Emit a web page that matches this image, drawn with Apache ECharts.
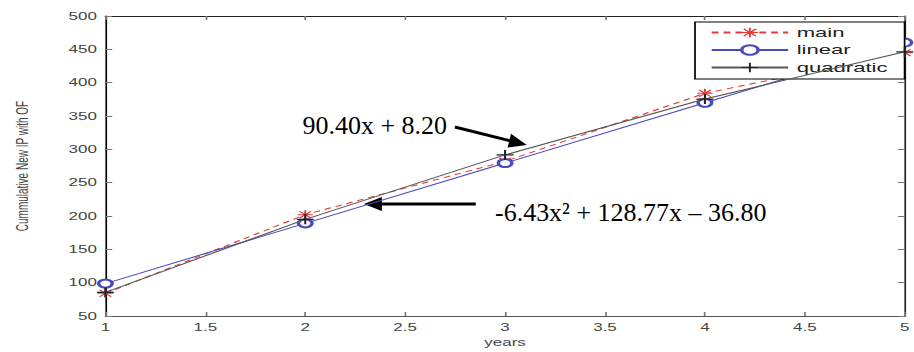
<!DOCTYPE html>
<html>
<head>
<meta charset="utf-8">
<script src="https://cdn.jsdelivr.net/npm/echarts@6/dist/echarts.min.js"></script>
<style>
html,body{margin:0;padding:0;background:#fff;overflow:hidden;}
#c{height:352px;transform-origin:0 0;}
</style>
</head>
<body>
<div id="c"></div>
<script>
// ---- data ----
const years = [1, 2, 3, 4, 5];
const mainValues = [84, 202, 282, 384, 445];
const linearValues = [98.6, 189.0, 279.4, 369.8, 460.2];
const quadraticValues = [85.5, 195.0, 291.6, 375.4, 446.3];
const seriesNames = ['main', 'linear', 'quadratic'];
const yAxisTitle = 'Cummulative New IP with OF';
const xAxisTitle = 'years';
const linearLabel = '90.40x + 8.20';
const quadLabel = '-6.43x² + 128.77x – 36.80';

// the original figure is horizontally stretched
const S = 1.7;
const el = document.getElementById('c');
el.style.width = (914 / S) + 'px';
el.style.transform = 'scaleX(' + S + ')';

const pairs = vals => years.map((x, i) => [x, vals[i]]);
const asterisk = 'path://M4.4 0L5.6 0L5.6 10L4.4 10Z M0 4.4L10 4.4L10 5.6L0 5.6Z M0.8 1.6L1.6 0.8L9.2 8.4L8.4 9.2Z M8.4 0.8L9.2 1.6L1.6 9.2L0.8 8.4Z';
const plus = 'path://M4.4 0L5.6 0L5.6 10L4.4 10Z M0 4.4L10 4.4L10 5.6L0 5.6Z';

function arrow(x0, y0, x1, y1) {
  const dx = x1 - x0, dy = y1 - y0, L = Math.hypot(dx, dy);
  const ux = dx / L, uy = dy / L, hl = 18, hw = 7;
  const bx = x1 - ux * hl, by = y1 - uy * hl;
  return [
    { type: 'line', shape: { x1: x0, y1: y0, x2: bx + ux * 2, y2: by + uy * 2 }, style: { stroke: '#000', lineWidth: 3 } },
    { type: 'polygon', shape: { points: [[x1, y1], [bx - uy * hw, by + ux * hw], [bx + uy * hw, by - ux * hw]] }, style: { fill: '#000' } }
  ];
}

const font = 'Liberation Sans, Arial, sans-serif';
const chart = echarts.init(el, null, { renderer: 'svg' });
const axisCommon = {
  type: 'value',
  axisLine: { show: true, lineStyle: { color: '#222', width: 1 } },
  axisTick: { show: true, inside: true, length: 4, lineStyle: { color: '#777' } },
  splitLine: { show: false }
};
chart.setOption({
  animation: false,
  backgroundColor: '#fff',
  grid: { left: 96 / S, right: 2 / S, top: 16, bottom: 36 },
  legend: {
    data: seriesNames,
    orient: 'vertical',
    left: 695 / S, top: 22,
    padding: [4, 10, 5, 8.8],
    itemWidth: 45, itemHeight: 12, itemGap: 4.5,
    backgroundColor: '#fff', borderColor: '#000', borderWidth: 1,
    textStyle: { fontFamily: font, fontSize: 13, color: '#222' }
  },
  xAxis: [
    Object.assign({}, axisCommon, {
      min: 1, max: 5, interval: 0.5, position: 'bottom',
      axisLine: { show: true, lineStyle: { color: '#555', width: 1 } },
      axisLabel: { fontFamily: font, fontSize: 10, color: '#444', margin: 6 },
      name: xAxisTitle, nameLocation: 'middle', nameGap: 21,
      nameTextStyle: { fontFamily: font, fontSize: 10, color: '#444' }
    }),
    Object.assign({}, axisCommon, {
      min: 1, max: 5, interval: 0.5, position: 'top', axisLabel: { show: false }
    })
  ],
  yAxis: [
    Object.assign({}, axisCommon, {
      min: 50, max: 500, interval: 50, position: 'left',
      axisLine: { show: true, lineStyle: { color: '#000', width: 1 } },
      axisLabel: { fontFamily: font, fontSize: 10, color: '#444', margin: 5 },
      name: yAxisTitle, nameLocation: 'middle', nameGap: 44,
      nameTextStyle: { fontFamily: font, fontSize: 10, color: '#444' }
    }),
    Object.assign({}, axisCommon, {
      min: 50, max: 500, interval: 50, position: 'right', axisLabel: { show: false }
    })
  ],
  series: [
    {
      name: seriesNames[0], type: 'line', data: pairs(mainValues),
      symbol: asterisk, symbolSize: 9,
      lineStyle: { color: '#e03a3a', width: 1, type: [4, 3] },
      itemStyle: { color: '#e03a3a' }, z: 2
    },
    {
      name: seriesNames[1], type: 'line', data: pairs(linearValues),
      symbol: 'emptyCircle', symbolSize: 8, showAllSymbol: true,
      lineStyle: { color: '#4a4ac0', width: 1 },
      itemStyle: { color: '#4a4ac0', borderWidth: 1 }, z: 3
    },
    {
      name: seriesNames[2], type: 'line', data: pairs(quadraticValues),
      symbol: plus, symbolSize: 10,
      lineStyle: { color: '#555', width: 1 },
      itemStyle: { color: '#222' }, z: 4
    }
  ],
  graphic: [{
    type: 'group', x: 0, y: 0, scaleX: 1 / S, z: 100,
    children: [
      { type: 'text', x: 447, y: 125, style: { text: linearLabel, fontFamily: 'Liberation Serif, Times New Roman, serif', fontSize: 26, fill: '#000', align: 'right', verticalAlign: 'middle' } },
      { type: 'text', x: 495, y: 212, style: { text: quadLabel, fontFamily: 'Liberation Serif, Times New Roman, serif', fontSize: 26, fill: '#000', align: 'left', verticalAlign: 'middle' } }
    ].concat(arrow(455, 127, 527, 145), arrow(476, 204, 364, 204))
  }]
});
</script>
</body>
</html>
